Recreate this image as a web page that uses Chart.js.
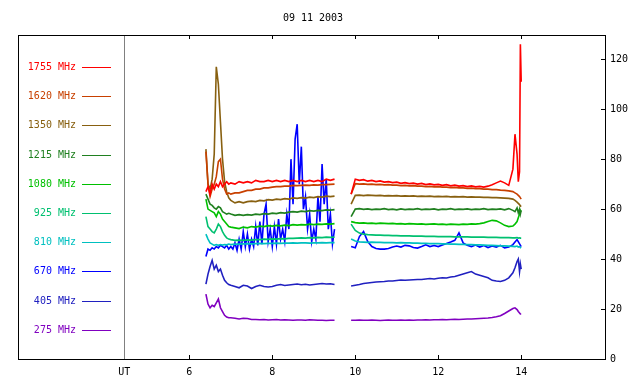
<!DOCTYPE html>
<html>
<head>
<meta charset="utf-8">
<script src="https://cdn.jsdelivr.net/npm/chart.js@4.4.0/dist/chart.umd.min.js"></script>
<style>
  body { margin: 0; background: #fff; }
  #wrap { width: 640px; height: 384px; }
</style>
</head>
<body>
<div id="wrap"><canvas id="grafRadio" width="640" height="384"></canvas></div>
<script>
const titleText = '09 11 2003'
const utHour = 4.43
const hourTicks = [6, 8, 10, 12, 14]
const fluxTicks = [0, 20, 40, 60, 80, 100, 120]

// time axis shared by most channels (9.7 = data gap)
const hours = [6.40,6.45,6.50,6.55,6.60,6.65,6.70,6.75,6.80,6.85,6.90,6.95,7.00,
  7.1,7.2,7.3,7.4,7.5,7.6,7.7,7.8,7.9,8.0,8.1,8.2,8.3,8.4,8.5,8.6,8.7,8.8,8.9,9.0,9.1,9.2,9.3,9.4,9.5,
  9.7,
  9.9,10.0,10.1,10.2,10.3,10.4,10.5,10.6,10.7,10.8,10.9,11.0,11.1,11.2,11.3,11.4,11.5,11.6,11.7,11.8,
  11.9,12.0,12.1,12.2,12.3,12.4,12.5,12.6,12.7,12.8,12.9,13.0,13.1,13.2,13.3,13.4,13.5,13.6,13.7,13.8,
  13.85,13.9,13.93,13.96,13.98,14.0]

const mhz1755 = [67,69,66,70,68,70,69,71,69,70,71,70,70.5,
  70,71,70.5,71,70.5,71.5,71,71,71.5,71,71.5,71,71.5,71,71.5,71,71.5,71,71.5,71,71.5,71,72,71.5,72,
  null,
  66,72,71.5,71.8,71.2,71.5,71,71.3,70.8,71,70.6,70.8,70.3,70.6,70.2,70.4,70,70.3,69.8,70.1,
  69.7,69.9,69.5,69.8,69.3,69.6,69.2,69.4,69,69.3,68.9,69.1,68.8,69.2,69.8,70.5,71.2,70.5,69.5,76,
  90,82,71,75,126,111]
const mhz1620 = [83,70,65,68,70,73,79,80,72,68,66,66.5,66,
  66.5,66.5,67,67.5,67.5,68,68,68.5,68.5,68.8,69,69,69.2,69.2,69.5,69.4,69.5,69.6,69.5,69.7,69.6,69.8,69.8,69.9,70,
  null,
  66,70.2,70,70.1,69.9,70,69.8,69.9,69.7,69.8,69.6,69.6,69.4,69.5,69.3,69.4,69.2,69.2,69,69.1,
  68.9,69,68.8,68.8,68.6,68.7,68.5,68.5,68.3,68.4,68.2,68.2,68,68,67.8,67.8,67.6,67.5,67.3,67,
  66.5,66,65.5,65,64.5,64]
const mhz1350 = [84,70,68,72,82,117,110,95,80,71,67,64.5,63.5,
  62.5,63,62.5,63,63.2,63,63.5,63.3,63.8,63.6,64,63.8,64.2,64,64.5,64.3,64.6,64.4,64.8,64.6,65,64.8,65.2,65,65.2,
  null,
  62,65.5,65.6,65.4,65.6,65.5,65.4,65.5,65.3,65.4,65.3,65.4,65.2,65.3,65.2,65.3,65.1,65.2,65.1,65.2,
  65,65.1,65,65.1,64.9,65,64.9,65,64.8,64.9,64.8,64.8,64.7,64.7,64.6,64.6,64.5,64.4,64.3,64,
  63.5,62.8,62.3,61.8,61.3,61]
const mhz1215 = [66,64,62,61.5,60.5,60,61,60.5,59,58.5,58,58.3,58,
  57.5,57.8,57.5,57.8,57.6,58,57.8,58.2,58,58.4,58.2,58.6,58.4,58.8,59,58.8,59.2,59,59.4,59.2,59.5,59.4,59.7,59.6,59.8,
  null,
  57,60,60.2,59.9,60.1,59.8,60,59.9,60.2,59.8,60,59.7,60.1,59.8,60,59.9,60.2,59.8,60,59.9,
  60.1,59.7,60,59.9,60.2,59.8,60,59.9,60.1,59.8,60,59.9,60.2,59.8,60,59.9,60.1,59.7,60.2,59.5,
  59,60.5,58.5,60,58,59.5]
const mhz1080 = [64,60,59.5,59,58.5,57,59,58,56,55,54,53,52.8,
  52.5,52.2,52.8,52.5,53,52.8,53.2,53,53.4,53.2,53.5,53.3,53.6,53.4,53.8,53.6,53.8,53.7,54,53.8,54,53.9,54.1,54,54.2,
  null,
  55,54.6,54.4,54.5,54.3,54.4,54.2,54.4,54.3,54.2,54.3,54.1,54.2,54,54.2,54.1,54,54.1,53.9,54,
  54.1,53.9,54,53.8,54,53.9,53.8,54,53.9,54.1,54,54.2,54.5,55,55.5,55.3,54.5,53.5,53,53.2,
  54,55,56.5,58,59.5,59]
const mhz925 = [57,53,52,51,50.5,52,54,53,51,49.5,48.5,48,47.8,
  47.5,47.6,47.5,47.7,47.6,47.8,47.8,48,47.9,48.1,48,48.2,48.1,48.3,48.3,48.4,48.5,48.4,48.6,48.5,48.7,48.6,48.8,48.7,48.8,
  null,
  54,51.5,50.4,50,49.8,49.7,49.6,49.6,49.5,49.5,49.4,49.4,49.3,49.3,49.3,49.2,49.2,49.2,49.1,49.1,
  49.1,49,49,49,49,48.9,48.9,48.9,48.9,48.8,48.8,48.8,48.8,48.7,48.7,48.7,48.6,48.6,48.6,48.5,
  48.5,48.6,48.4,48.5,48.4,48.4]
const mhz810 = [50,48,46.5,46,45.5,45.8,45.5,45.8,45.6,45.8,45.7,46,45.8,
  46,46,46.1,46.2,46.1,46.2,46.3,46.2,46.3,46.3,46.4,46.3,46.4,46.4,46.5,46.4,46.5,46.5,46.4,46.5,46.5,46.6,46.5,46.6,46.6,
  null,
  48,47.2,46.9,46.8,46.7,46.8,46.7,46.7,46.6,46.6,46.6,46.5,46.6,46.5,46.5,46.4,46.4,46.3,46.3,46.2,
  46.2,46.2,46.1,46.1,46,46,45.9,45.9,45.8,45.8,45.7,45.7,45.6,45.5,45.5,45.4,45.3,45.3,45.2,45.1,
  45,45.2,44.8,45,44.6,44.8]
const mhz405 = [30,34,37,39.5,36,37.5,35,36,33.5,31.5,30.5,29.8,29.5,
  29,28.5,29.5,29.2,28.2,29,29.5,29,28.8,29,29.5,29.8,29.4,29.6,29.8,30,29.7,29.9,29.6,29.8,30,30.2,30,30.1,29.8,
  null,
  29.2,29.5,29.8,30.2,30.4,30.6,30.8,30.9,31,31.2,31.2,31.4,31.6,31.5,31.6,31.7,31.8,31.8,32,32.2,
  32,32.3,32.5,32.4,32.8,33,33.5,34,34.5,35,34,33.5,33,32.5,31.5,31.2,31,31.5,32.5,34.5,
  36.5,39,40,35,38,36]
const mhz275 = [26,22,20.5,21.5,21,22.5,24,20.5,19,17.5,16.8,16.5,16.5,
  16.3,16,16.3,16.2,15.8,15.8,15.7,15.8,15.6,15.7,15.8,15.6,15.7,15.6,15.5,15.6,15.6,15.5,15.7,15.6,15.5,15.5,15.4,15.5,15.5,
  null,
  15.5,15.5,15.6,15.5,15.5,15.6,15.5,15.4,15.5,15.6,15.5,15.5,15.6,15.5,15.6,15.5,15.6,15.6,15.7,15.6,
  15.7,15.7,15.8,15.7,15.8,15.9,15.8,15.9,16,16,16.1,16.2,16.3,16.4,16.6,16.9,17.3,18.2,19.2,20.2,
  20.5,19.8,19,18.4,18,18]

// 670 MHz is sampled finer (bursts between 7.5 and 9.5 UT)
const hours670 = [6.40,6.45,6.50,6.55,6.60,6.65,6.70,6.75,6.80,6.85,6.90,6.95,7.00,7.05,7.10,7.15,7.20,7.25,7.30,7.35,
  7.40,7.45,7.50,7.55,7.60,7.65,7.70,7.75,7.80,7.85,7.90,7.95,8.00,8.05,8.10,8.15,8.20,8.25,8.30,8.35,
  8.40,8.45,8.50,8.55,8.60,8.65,8.70,8.75,8.80,8.85,8.90,8.95,9.00,9.05,9.10,9.15,9.20,9.25,9.30,9.35,
  9.40,9.45,9.50,
  9.7,
  9.9,10.0,10.1,10.2,10.3,10.4,10.5,10.6,10.7,10.8,10.9,11.0,11.1,11.2,11.3,11.4,11.5,11.6,11.7,11.8,
  11.9,12.0,12.1,12.2,12.3,12.4,12.5,12.6,12.7,12.8,12.9,13.0,13.1,13.2,13.3,13.4,13.5,13.6,13.7,13.8,
  13.9,14.0]
const mhz670 = [41,44,43.5,44.5,44,45,44.5,45.5,45,44.5,45.5,44,45,44,46.5,43.5,48,44,51,45,
  50,44,48,45,53,45.5,55,46,58,62,47,52,45,53,46,56,48,52,47,58,
  52,80,62,88,94,70,85,60,65,52,58,47,52,48,65,55,78,62,72,52,
  58,46,52,
  null,
  45,44.5,49,51,47,45,44.2,44,44,44.2,44.8,45.2,44.8,45.5,45.3,44.6,44.4,45,45.7,45,
  45.4,45,45.6,46.2,46.8,47.5,50.5,46.5,45.5,45,45.6,44.8,45.4,44.6,45.2,44.8,45.5,44.5,44.8,45.8,
  47.8,45]

const channels = ['1755 MHz','1620 MHz','1350 MHz','1215 MHz','1080 MHz','925 MHz','810 MHz','670 MHz','405 MHz','275 MHz']
const colores = ['#ff0000','#c84000','#886010','#208020','#00c000','#00c070','#00c0c0','#0000ff','#2020c0','#8000c0']
const serieValues = [mhz1755, mhz1620, mhz1350, mhz1215, mhz1080, mhz925, mhz810, mhz670, mhz405, mhz275]
const serieHours = [hours, hours, hours, hours, hours, hours, hours, hours670, hours, hours]

const fuente = '10px "DejaVu Sans Mono", "Liberation Mono", monospace'

// title, frame, inward ticks, UT line and channel key
const marco = {
    id: 'marco',
    afterDraw(chart){
        const {ctx, chartArea: a, scales: {x, y}} = chart
        ctx.save()
        ctx.font = fuente
        ctx.fillStyle = '#000'
        ctx.textAlign = 'center'
        ctx.textBaseline = 'middle'
        ctx.fillText(titleText, 313, 18)

        let ux = Math.round(x.getPixelForValue(utHour))
        ctx.fillStyle = '#808080'
        ctx.fillRect(ux, a.top, 1, a.bottom - a.top)

        ctx.strokeStyle = '#000'
        ctx.lineWidth = 1
        ctx.strokeRect(a.left + 0.5, a.top + 0.5, a.right - a.left, a.bottom - a.top)
        ctx.beginPath()
        hourTicks.forEach(h => {
            let px = Math.round(x.getPixelForValue(h)) + 0.5
            ctx.moveTo(px, a.bottom); ctx.lineTo(px, a.bottom - 4)
            ctx.moveTo(px, a.top); ctx.lineTo(px, a.top + 4)
        })
        fluxTicks.forEach(v => {
            let py = Math.round(y.getPixelForValue(v)) + 0.5
            ctx.moveTo(a.right, py); ctx.lineTo(a.right - 4, py)
        })
        ctx.stroke()

        ctx.textAlign = 'right'
        channels.forEach((c, i) => {
            let yy = Math.round(67 + i * 29.2)
            ctx.fillStyle = colores[i]
            ctx.fillText(c, 76, yy + 0.5)
            ctx.fillRect(82, yy, 29, 1)
        })
        ctx.restore()
    }
}

document.addEventListener('DOMContentLoaded', () => {
    let grafico = new Chart(document.getElementById('grafRadio'), {
        type: 'line',
        plugins: [marco],
        data: {
            datasets: channels.map((c, i) => ({
                label: c,
                borderColor: colores[i],
                backgroundColor: colores[i],
                borderWidth: 1.6,
                pointRadius: 0,
                spanGaps: false,
                data: serieHours[i].map((h, j) => ({x: h, y: serieValues[i][j]})),
            }))
        },
        options: {
            responsive: false,
            animation: false,
            layout: { padding: { left: 18, top: 35, right: 0, bottom: 0 } },
            plugins: { legend: { display: false }, tooltip: { enabled: false } },
            scales: {
                x: {
                    type: 'linear',
                    min: 1.87,
                    max: 16.02,
                    grid: { display: false, drawTicks: false },
                    border: { display: false },
                    afterBuildTicks: s => { s.ticks = [utHour, ...hourTicks].map(v => ({value: v})) },
                    afterFit: s => { s.height = 25 },
                    ticks: {
                        autoSkip: false,
                        maxRotation: 0,
                        padding: 7,
                        color: '#000',
                        font: { family: '"DejaVu Sans Mono"', size: 10 },
                        callback: v => v === utHour ? 'UT' : v,
                    },
                },
                y: {
                    position: 'right',
                    min: 0,
                    max: 129.7,
                    grid: { display: false, drawTicks: false },
                    border: { display: false },
                    afterBuildTicks: s => { s.ticks = fluxTicks.map(v => ({value: v})) },
                    afterFit: s => { s.width = 35 },
                    ticks: {
                        padding: 5,
                        color: '#000',
                        font: { family: '"DejaVu Sans Mono"', size: 10 },
                    },
                },
            },
        },
    })
})
</script>
</body>
</html>
